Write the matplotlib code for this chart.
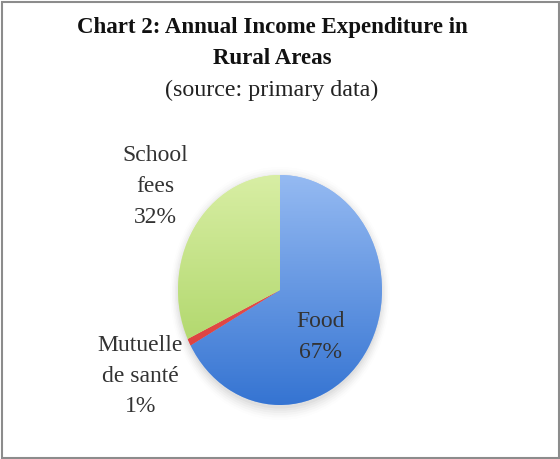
import numpy as np
import matplotlib
matplotlib.use("Agg")
import matplotlib.pyplot as plt
from matplotlib.patches import Rectangle, Ellipse
from matplotlib.colors import LinearSegmentedColormap

categories = ["Food", "Mutuelle\nde santé", "School\nfees"]
values = [67, 1, 32]
pct_labels = ["67%", "1%", "32%"]
top_colors = ["#95baf2", "#f06060", "#d8eea4"]
bottom_colors = ["#3574d2", "#d83a36", "#a4d05a"]

W, H = 560, 459
fig = plt.figure(figsize=(W / 100, H / 100), dpi=100)
fig.patch.set_facecolor("white")
fig.patches.append(Rectangle((1.5 / W, 1.5 / H), (W - 3) / W, (H - 3) / H,
                             transform=fig.transFigure, fill=False,
                             edgecolor="#8c8c8c", linewidth=1.5))

serif = ["Liberation Serif", "DejaVu Serif"]
fig.text(272 / W, 1 - 28 / H, "Chart 2: Annual Income Expenditure in",
         ha="center", va="center", fontsize=16.5, fontweight="bold",
         family=serif, color="#111111")
fig.text(272 / W, 1 - 58 / H, "Rural Areas", ha="center", va="center",
         fontsize=16.5, fontweight="bold", family=serif, color="#111111")
fig.text(272 / W, 1 - 90 / H, "(source: primary data)", ha="center",
         va="center", fontsize=17.3, family=serif, color="#222222")

# pie axes (ellipse region)
cx, cy, rx, ry = 280, 290, 102, 115
ax = fig.add_axes([(cx - rx) / W, (H - cy - ry) / H, 2 * rx / W, 2 * ry / H])
ax.axis("off")

# soft shadow
for i, a in enumerate(np.linspace(0.05, 0.012, 6)):
    ax.add_patch(Ellipse((0.0, -0.03), 2.0 + 0.03 * i, 2.0 + 0.04 * i,
                         facecolor="#555555", edgecolor="none", alpha=a,
                         zorder=0, clip_on=False))

wedges, _ = ax.pie(values, startangle=90, counterclock=False, radius=1,
                   colors=top_colors, wedgeprops=dict(linewidth=0),
                   frame=False)
ax.set_xlim(-1, 1)
ax.set_ylim(-1, 1)
ax.set_aspect("auto")

grad = np.linspace(0, 1, 256).reshape(-1, 1)
for w, ct, cb in zip(wedges, top_colors, bottom_colors):
    cmap = LinearSegmentedColormap.from_list("g", [cb, ct])
    im = ax.imshow(grad, cmap=cmap, extent=(-1, 1, -1, 1), origin="lower",
                   aspect="auto", zorder=w.get_zorder() + 0.1,
                   interpolation="bilinear")
    im.set_clip_path(w)
ax.set_xlim(-1, 1)
ax.set_ylim(-1, 1)

lab_pos = [(0.40, -0.41), (-1.37, -0.75), (-1.22, 0.90)]
for (x, y), c, p in zip(lab_pos, categories, pct_labels):
    ax.text(x, y, c + "\n" + p, ha="center", va="center", fontsize=17,
            family=serif, color="#333333", linespacing=1.6, clip_on=False,
            zorder=10)

fig.savefig("out.png", dpi=100, facecolor="white")
